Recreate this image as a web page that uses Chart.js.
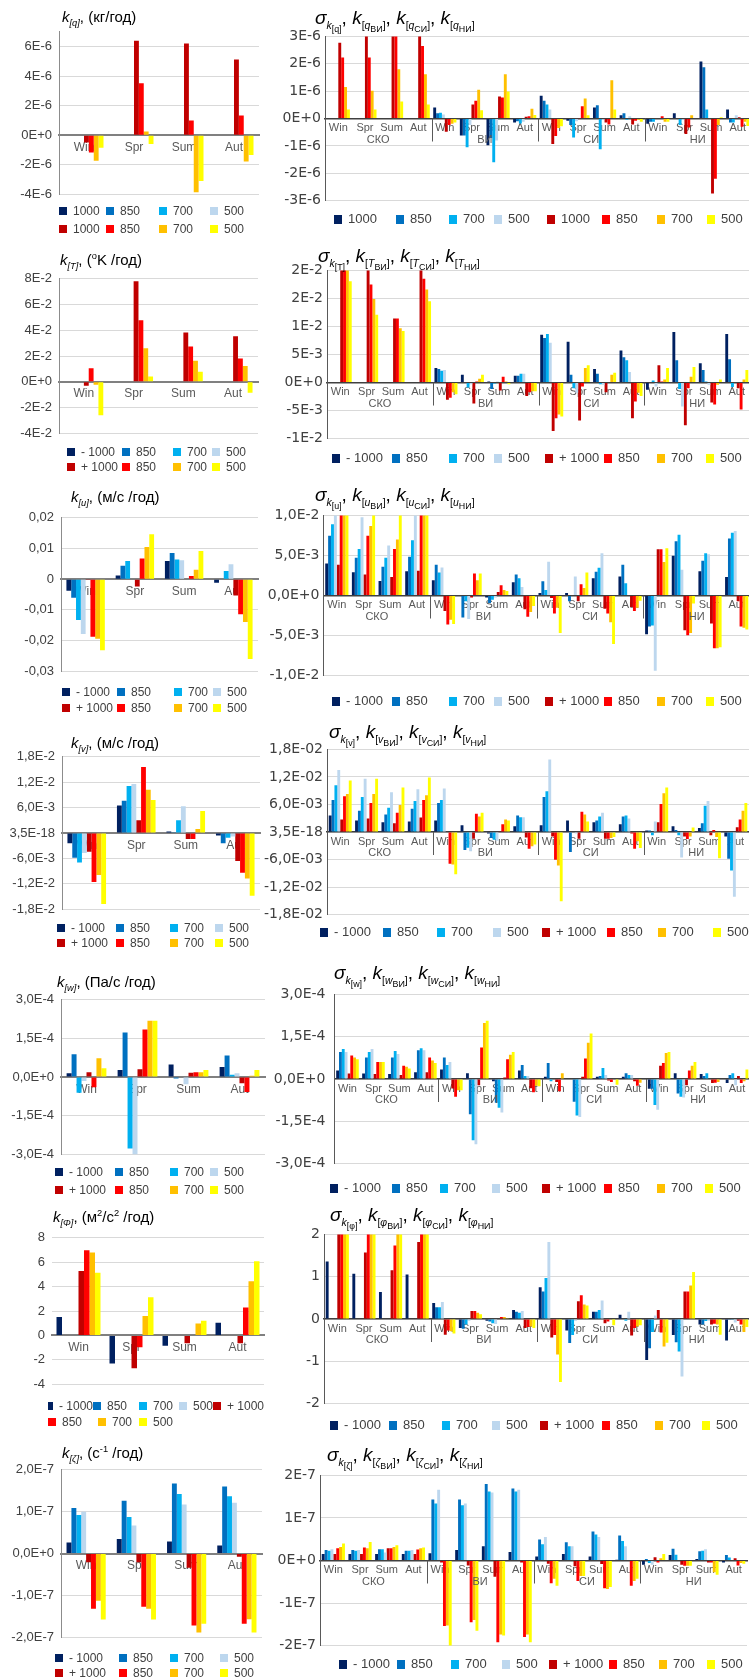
<!DOCTYPE html>
<html>
<head>
<meta charset="utf-8">
<script src="https://cdn.jsdelivr.net/npm/chart.js@4.4.1/dist/chart.umd.min.js"></script>
<style>
body { margin: 0; background: #fff; }
#page { position: relative; width: 749px; height: 1680px; overflow: hidden; font-family: "Liberation Sans", Arial, sans-serif; }
canvas { position: absolute; }
.ttl { position: absolute; white-space: nowrap; color: #000; line-height: 20px; }
.ttl sub, .ttl sup { font-size: 0.62em; line-height: 0; }
.lt { font-size: 15px; }
.rt { font-size: 19px; }
.rt sub { font-size: 0.55em; }
.rt sub sub { font-size: 0.85em; }
.leg { position: absolute; display: flex; white-space: nowrap; color: #404040; line-height: 16px; }
.leg span { display: flex; align-items: center; }
.leg i { display: inline-block; margin-right: 6px; }
.legL { font-size: 12px; }
.legL i { width: 8px; height: 8px; }
.legR { font-size: 13px; }
.legR i { width: 8px; height: 9px; }
</style>
</head>
<body>
<div id="page"></div>
<script>
const seasons = ['Win', 'Spr', 'Sum', 'Aut'];
const regions = ['СКО', 'ВИ', 'СИ', 'НИ'];
const regionSeasons = regions.flatMap(() => seasons);
const levelsPlain = ['1000', '850', '700', '500', '1000', '850', '700', '500'];
const levelsSigned = ['- 1000', '850', '700', '500', '+ 1000', '850', '700', '500'];
const palette = ['#002060', '#0070C0', '#00B0F0', '#BDD7EE', '#C00000', '#FF0000', '#FFC000', '#FFFF00'];

// series order: -1000, 850, 700, 500 (blue) then +1000, 850, 700, 500 (red/yellow)
// k[q], units of 1E-6
const qSeason = [
    [0, 0, 0, 0], [0, 0, 0, 0], [0, 0, 0, 0], [0, 0, 0, 0],
    [-0.5, 6.4, 6.2, 5.12],
    [-1.18, 3.51, 1.0, 1.33],
    [-1.73, 0.24, -3.87, -1.78],
    [-0.86, -0.6, -3.1, -1.35]
];
const qRegion = [
    [0, 0, 0, 0, 0.40, -0.62, -0.98, -0.15, 0.83, -0.08, 0.40, 0.12, -0.19, 0.19, 2.08, 0.33],
    [0, 0, 0, 0, 0.19, -0.62, -0.71, -0.10, 0.65, -0.24, 0.48, 0.19, -0.12, 0, 1.87, -0.15],
    [0, 0, 0, 0, 0.21, -1.05, -1.60, -0.18, 0.51, -0.69, -1.12, -0.05, -0.12, -0.24, 0.33, -0.15],
    [0, 0, 0, 0, 0.15, -0.24, -0.80, -0.12, 0.33, -0.10, -0.05, 0.08, 0, -0.05, -0.02, 0.12],
    [2.77, 3.4, 3.3, 3.2, -0.48, 0.51, 0.80, 0.06, -0.93, 0.01, -0.15, -0.22, 0.02, -0.57, -2.74, 0.05],
    [2.23, 2.23, 3.1, 2.65, -0.24, 0.65, 0.77, 0.08, -0.64, 0.45, -0.22, -0.08, 0.08, -0.33, -2.20, -0.30],
    [1.15, 1.01, 1.80, 1.62, -0.19, 1.05, 1.62, 0.36, -0.35, 0.73, 1.40, -0.05, -0.12, 0.12, -0.24, -0.12],
    [0.33, 0.33, 0.62, 0.51, -0.15, 0.30, 0.99, 0.13, -0.28, 0.12, 0.33, -0.12, -0.12, -0.02, 0.05, -0.27]
];
const qSeasonTicks = ['6E-6', '4E-6', '2E-6', '0E+0', '-2E-6', '-4E-6'];
const qRegionTicks = ['3E-6', '2E-6', '1E-6', '0E+0', '-1E-6', '-2E-6', '-3E-6'];

// k[T], left in 1E-2, right in 1E-3
const tSeason = [
    [0, 0, 0, 0], [0, 0, 0, 0], [0, 0, 0, 0], [0, 0, 0, 0],
    [-0.32, 7.8, 3.83, 3.54],
    [1.05, 4.78, 2.73, 1.8],
    [-0.24, 2.6, 1.63, 1.22],
    [-2.6, 0.41, 0.78, -0.85]
];
const tRegion = [
    [0, 0, 0, 0, 2.6, 1.38, 0.17, 1.21, 8.54, 7.27, 2.42, 5.71, -1.27, 9.0, 3.46, 8.66],
    [0, 0, 0, 0, 2.4, 0, -1.15, 1.21, 7.96, 1.38, 1.56, 4.5, 0, 3.98, 2.25, 4.15],
    [0, 0, 0, 0, 2.1, -0.87, -0.17, 1.56, 8.66, -1.04, -0.29, 3.98, 0.35, -1.15, 0.17, -0.8],
    [0, 0, 0, 0, 2.25, -0.3, 0.17, 1.56, 7.1, -1.8, -0.4, 1.9, -0.7, -4.27, -0.4, 0],
    [25, 22, 11.4, 21, -3.06, -3.75, -1.44, -2.42, -8.66, -6.75, -1.73, -6.35, 3.1, -7.6, -3.58, -1.0],
    [24, 17.5, 11.4, 18.5, -2.7, 0.17, 1.04, -1.73, -6.35, -0.69, 0, -3.4, 0.17, -1.0, -3.92, -4.79],
    [22, 14.9, 9.7, 16.6, -1.73, 0.69, 0.17, -1.56, -5.71, 2.6, 1.38, -1.8, 0.52, 1.04, -0.4, 0.52],
    [18.06, 12.1, 9.2, 14.5, -2.1, 1.38, -0.29, -1.56, -6.06, 3.1, 1.73, -2.42, 2.6, 2.77, 0.52, 2.25]
];
const tSeasonTicks = ['8E-2', '6E-2', '4E-2', '2E-2', '0E+0', '-2E-2', '-4E-2'];
const tRegionTicks = ['2E-2', '2E-2', '1E-2', '5E-3', '0E+0', '-5E-3', '-1E-2'];

// k[u], units of 1E-3
const uSeason = [
    [-3.8, 1.2, 5.9, -1.2],
    [-6.1, 4.4, 8.5, 0],
    [-13.3, 5.9, 6.4, 2.65],
    [-17.9, 0, 6.2, 4.9],
    [-0.3, -2.4, 0, -5.3],
    [-18.8, 6.7, 1.0, -11.4],
    [-19.4, 10.5, 3.1, -14.0],
    [-23.2, 14.6, 9.2, -26.0]
];
const uRegion = [
    [4.0, 2.9, 1.81, 3.02, 1.9, 0, -0.24, 1.65, 0.32, 0.32, 2.14, 2.38, -4.84, 4.96, 3.02, 2.3],
    [7.46, 4.72, 3.59, 4.84, 3.83, -2.74, -0.93, 2.62, 1.77, -0.73, 2.98, 3.83, -3.87, 6.77, 4.35, 7.13],
    [8.9, 5.8, 4.72, 6.9, 2.86, -0.73, -0.52, 2.14, 0.69, 0, 3.47, 1.53, -3.75, 7.58, 5.28, 7.82],
    [10.5, 9.76, 6.25, 10.5, 3.5, -2.94, -0.24, 1.05, 4.2, 2.38, 5.28, 0, -9.4, 3.23, 5.16, 8.06],
    [3.83, 2.62, 2.3, 3.1, -1.94, -0.24, 0.44, -1.73, -0.3, -0.73, -1.65, -1.45, 5.77, -4.35, -3.5, -0.73],
    [11, 7.46, 5.8, 10.2, -3.63, 2.74, 1.29, -2.66, -2.26, 1.41, -2.26, -1.94, 5.77, -4.96, -6.57, -3.87],
    [11, 8.67, 7.0, 10.8, -3.02, 1.9, 0.69, -2.06, -1.53, 0.93, -3.35, -1.53, 4.19, -4.68, -6.6, -4.03],
    [12, 10.5, 11, 11, -3.55, 2.74, 0.56, -1.3, -4.68, 2.86, -6.05, -0.65, 5.89, -1.0, -6.45, -4.23]
];
const uSeasonTicks = ['0,02', '0,01', '0', '-0,01', '-0,02', '-0,03'];
const uRegionTicks = ['1,0E-2', '5,0E-3', '0,0E+0', '-5,0E-3', '-1,0E-2'];

// k[v], units of 1E-3
const vSeason = [
    [-2.4, 6.5, 0.37, -0.6],
    [-5.85, 7.6, 0.2, -2.4],
    [-6.95, 11.1, 3.0, -1.1],
    [-4.75, 11.56, 6.3, -0.8],
    [-4.4, 3.0, -1.4, -6.6],
    [-11.56, 15.6, -1.4, -9.4],
    [-9.9, 10.2, 0.95, -10.75],
    [-16.8, 7.8, 5.2, -14.8]
];
const vRegion = [
    [3.6, 2.5, 2.1, 2.3, 2.5, 1.48, -0.35, 1.27, 1.48, 2.5, 2.1, 1.7, 0.35, 1.27, 0.85, -1.0],
    [7.0, 4.65, 3.8, 5.07, 6.3, -3.9, -1.3, 3.6, 7.6, -4.37, 2.5, 3.4, 0.35, 0.42, 1.9, -5.85],
    [10.2, 7.6, 5.3, 6.76, 7.0, -3.45, -1.7, 3.2, 8.9, 0, 3.4, 3.6, -0.7, -0.7, 5.7, -8.4],
    [13.5, 11.6, 8.66, 9.3, 9.5, -4.2, -1.9, 3.2, 15.8, -0.3, 4.2, 2.96, 2.3, -5.56, 6.76, -14.1],
    [2.75, 2.96, 1.9, 3.17, 0, -1.48, 0.14, -1.2, -1.0, -1.48, -1.48, -0.35, 2.1, -1.0, -0.7, 1.05],
    [7.8, 6.3, 4.2, 7.0, -6.9, 4.0, 1.7, -3.66, -6.05, 4.4, -1.48, -3.66, 6.1, -1.55, 0.42, 2.75],
    [8.3, 8.3, 5.9, 8.0, -7.1, 3.4, 2.75, -3.1, -7.3, 3.8, -1.3, -2.0, 8.45, -1.0, -1.1, 4.65],
    [11.2, 11.6, 9.7, 11.9, -9.2, 4.2, 2.5, -2.75, -15.1, 2.3, -1.1, -3.5, 9.7, 1.0, -5.7, 6.3]
];
const vSeasonTicks = ['1,8E-2', '1,2E-2', '6,0E-3', '3,5E-18', '-6,0E-3', '-1,2E-2', '-1,8E-2'];
const vRegionTicks = ['1,8E-02', '1,2E-02', '6,0E-03', '3,5E-18', '-6,0E-03', '-1,2E-02', '-1,8E-02'];

// k[w], units of 1E-5
const wSeason = [
    [1.46, 2.7, 4.9, 3.9],
    [8.8, 17.3, -0.6, 8.4],
    [-6.1, -27.8, 0, 0.85],
    [-1.6, -30.5, -2.8, 1.46],
    [1.83, 3.05, 1.7, -2.4],
    [-4.0, 18.5, 1.83, -5.85],
    [7.3, 21.9, 1.83, 0.5],
    [3.4, 21.9, 2.7, 2.7]
];
const wRegion = [
    [3.05, 1.96, 1.74, 2.4, 3.4, 2.07, -0.76, 3.05, 0.76, 0, 0.76, 0.76, -3.5, 2.07, 1.74, -1.4],
    [9.6, 7.6, 7.6, 10.2, 7.6, -12.5, -8.4, 5.0, 5.66, -8.1, 1.1, 2.07, -3.5, -5.1, 1.1, 1.4],
    [10.6, 9.6, 9.9, 10.9, 5.0, -21.7, -10.2, 1.1, -0.76, -12.9, 3.9, 1.4, -9.25, -6.3, 2.07, 2.07],
    [9.6, 10.6, 8.9, 10.2, 6.0, -23.1, -11.9, 1.1, 0, -13.5, 1.4, 1.4, -10.9, -6.6, 0, -2.2],
    [1.96, 1.74, 1.4, 2.4, -3.4, -2.2, 0.54, -3.3, -1.1, 0.76, -0.54, -0.76, 4.7, -2.2, -1.4, 1.1],
    [8.3, 6.0, 4.7, 7.6, -6.3, 11.2, 7.0, -4.7, -4.36, 7.3, -1.1, -2.4, 5.66, 3.05, -1.3, -1.4],
    [7.6, 6.0, 4.36, 6.6, -4.0, 19.9, 8.6, -2.4, 2.07, 12.85, -0.2, -1.3, 9.25, 4.7, -1.1, -0.76],
    [7.0, 6.0, 3.7, 5.66, -4.0, 20.7, 9.6, -2.6, 0, 16.1, -2.07, 0, 9.6, 6.0, 0.2, 3.4]
];
const wSeasonTicks = ['3,0E-4', '1,5E-4', '0,0E+0', '-1,5E-4', '-3,0E-4'];
const wRegionTicks = ['3,0E-4', '1,5E-4', '0,0E+0', '-1,5E-4', '-3,0E-4'];

// k[Φ], m2/s2 per year
const fSeason = [
    [1.5, -2.31, -0.85, 1.03],
    [0, 0, 0, 0], [0, 0, 0, 0], [0, 0, 0, 0],
    [5.28, -2.7, -0.64, -0.64],
    [6.97, -0.97, 0, 2.28],
    [6.8, 1.59, 0.97, 4.44],
    [5.13, 3.13, 1.2, 6.08]
];
const fRegion = [
    [1.36, 1.07, 0.64, 1.05, 0.38, -0.21, -0.04, 0.21, 0.75, -0.27, 0.17, 0.1, -0.97, -0.38, -0.13, -0.51],
    [0, 0, 0, 0, 0.28, -0.23, -0.06, 0.17, 0.65, -0.57, 0.17, 0, -0.69, -0.55, -0.13, -0.02],
    [0, 0, 0, 0, 0.28, -0.13, -0.1, 0.15, 0.97, -0.38, 0.21, -0.04, -0.31, -0.77, -0.05, -0.02],
    [0, 0, 0, 0, 0.4, -0.04, -0.12, 0.19, 1.82, -0.04, 0.44, 0.17, 0.08, -1.36, -0.04, -0.08],
    [2.3, 1.57, 1.15, 1.82, -0.37, 0.19, 0, -0.21, -0.44, 0.42, -0.1, -0.39, 0.21, 0.65, -0.13, -0.04],
    [2.5, 2.1, 1.74, 2.2, -0.27, 0.19, 0.05, -0.19, -0.38, 0.56, -0.06, -0.21, -0.32, 0.65, -0.11, -0.13],
    [2.4, 2.3, 2.2, 2.3, -0.29, 0.15, 0.05, -0.18, -0.84, 0.34, -0.02, -0.18, -0.65, 0.79, -0.13, -0.31],
    [2.2, 2.3, 2.4, 2.4, -0.34, 0.11, 0.02, -0.21, -1.49, 0.32, -0.15, -0.15, -0.56, 1.11, -0.37, -0.19]
];
const fSeasonTicks = ['8', '6', '4', '2', '0', '-2', '-4'];
const fRegionTicks = ['2', '1', '0', '-1', '-2'];

// k[ζ], units of 1E-8
const zSeason = [
    [2.64, 3.47, 2.87, 1.89],
    [10.9, 12.6, 16.7, 16.0],
    [9.2, 8.7, 14.2, 13.7],
    [10.0, 6.7, 11.7, 12.1],
    [-2.1, -2.1, -3.4, -0.75],
    [-13.2, -12.75, -17.2, -16.8],
    [-11.3, -13.2, -18.9, -15.7],
    [-15.8, -15.8, -16.8, -18.9]
];
const zRegion = [
    [1.5, 1.5, 1.5, 1.5, 1.7, 2.44, 3.36, 2.0, 0.92, 1.5, 0.92, 0.15, -0.99, 1.3, 0.38, -0.46],
    [2.44, 2.44, 2.67, 2.3, 14.35, 14.35, 18.0, 16.9, 4.96, 4.27, 6.8, 5.88, 0.38, 2.75, 2.2, 1.3],
    [2.3, 2.3, 2.67, 2.3, 13.4, 13.0, 16.2, 16.2, 3.82, 3.36, 6.1, 4.58, -0.61, 1.37, 2.3, 0.69],
    [2.67, 2.44, 1.9, 2.44, 16.6, 13.4, 16.0, 16.6, 5.5, 3.36, 5.5, 3.36, -0.99, 0, 2.67, 0],
    [1.5, 1.5, 2.9, 1.5, -0.46, -1.2, -3.8, -0.46, -0.76, -1.37, -0.84, 0, 0.76, -0.99, -0.46, 0.53],
    [2.9, 3.05, 2.9, 2.6, -15.4, -14.5, -19.2, -18.0, -5.34, -4.8, -6.5, -5.95, -0.46, -1.22, -0.46, -1.15],
    [3.2, 2.9, 3.2, 2.9, -15.3, -14.0, -17.4, -17.4, -4.27, -3.66, -6.7, -4.8, 0.53, -1.22, -2.75, -0.61],
    [3.97, 4.35, 3.6, 3.05, -20.5, -16.5, -17.6, -19.2, -5.95, -3.66, -6.2, -4.27, 1.5, -1.22, -3.36, -0.76]
];
const zSeasonTicks = ['2,0E-7', '1,0E-7', '0,0E+0', '-1,0E-7', '-2,0E-7'];
const zRegionTicks = ['2E-7', '1E-7', '0E+0', '-1E-7', '-2E-7'];

const page = document.getElementById('page');

// region names and separators under the category axis
const regionPlugin = {
    id: 'regions',
    afterDraw(chart) {
        const x = chart.scales.x;
        const y0 = chart.scales.y.getPixelForValue(0);
        const ctx = chart.ctx;
        ctx.save();
        ctx.font = '11px "Liberation Sans"';
        ctx.fillStyle = '#595959';
        ctx.strokeStyle = '#595959';
        ctx.lineWidth = 1;
        ctx.textAlign = 'center';
        ctx.textBaseline = 'middle';
        regions.forEach((name, r) => {
            const a = x.getPixelForValue(r * 4);
            const b = x.getPixelForValue(r * 4 + 3);
            ctx.fillText(name, (a + b) / 2, y0 + 21);
            if (r > 0) {
                const sx = Math.round((x.getPixelForValue(r * 4 - 1) + a) / 2) + 0.5;
                ctx.beginPath();
                ctx.moveTo(sx, y0);
                ctx.lineTo(sx, y0 + 23);
                ctx.stroke();
            }
        });
        ctx.restore();
    }
};

function buildChart(s) {
    const [L, T, R, B] = s.plot;
    const cv = document.createElement('canvas');
    const top = Math.round(T - 10);
    cv.width = Math.round(R - s.canvasLeft + 2);
    cv.height = Math.round(B - T + 20);
    cv.style.left = s.canvasLeft + 'px';
    cv.style.top = top + 'px';
    page.appendChild(cv);
    const yw = L - s.canvasLeft;
    new Chart(cv, {
        type: 'bar',
        data: {
            labels: s.labels,
            datasets: s.data.map((vals, k) => ({
                label: s.names[k],
                data: vals,
                backgroundColor: palette[k],
                borderWidth: 0,
                categoryPercentage: s.catPct,
                barPercentage: 1,
                clip: 0
            }))
        },
        options: {
            responsive: false,
            animation: false,
            devicePixelRatio: 1,
            layout: { padding: { top: 10, bottom: 10, left: 0, right: 2 } },
            plugins: { legend: { display: false }, tooltip: { enabled: false } },
            scales: {
                x: {
                    position: { y: 0 },
                    z: 1,
                    grid: { display: false, drawTicks: false },
                    border: { display: true, color: s.zeroColor, width: s.zeroWidth },
                    ticks: {
                        autoSkip: false, maxRotation: 0, padding: s.xPad, color: '#595959',
                        font: { family: 'Liberation Sans', size: s.xFont }
                    }
                },
                y: {
                    min: s.min, max: s.max, bounds: 'data',
                    afterFit: sc => { sc.width = yw; },
                    afterBuildTicks: sc => {
                        sc.ticks = sc.ticks.filter(t => Math.abs(t.value / s.step - Math.round(t.value / s.step)) < 1e-6);
                    },
                    grid: { color: '#d9d9d9', drawTicks: false },
                    border: { display: s.yLine, color: s.yLineColor, width: 1 },
                    ticks: {
                        stepSize: s.step, autoSkip: false, padding: s.yPad, color: '#404040',
                        font: { family: s.yFamily, size: s.yFont },
                        callback: (v, i, arr) => s.ticks[arr.length - 1 - i]
                    }
                }
            }
        },
        plugins: s.regions ? [regionPlugin] : []
    });
}

function addTitle(html, cls, x, y) {
    const d = document.createElement('div');
    d.className = 'ttl ' + cls;
    d.innerHTML = html;
    d.style.left = x + 'px';
    d.style.top = (y - 10) + 'px';
    page.appendChild(d);
}

function addLegend(names, cls, x, y, gap, rows, widths) {
    rows.forEach((row, r) => {
        const d = document.createElement('div');
        d.className = 'leg ' + cls;
        d.style.left = x + 'px';
        d.style.top = (y + r * gap - 8) + 'px';
        row.forEach((k, j) => {
            const it = document.createElement('span');
            if (widths[r][j]) it.style.width = widths[r][j] + 'px';
            it.innerHTML = '<i style="background:' + palette[k] + '"></i>' + names[k];
            d.appendChild(it);
        });
        page.appendChild(d);
    });
}

const leftTitle = (sym, unit) => '<i>k</i><sub><i>[' + sym + ']</i></sub>, (' + unit + ')';
const rightTitle = sym => '<i>σ</i><sub><i>k</i><sub>[' + sym + ']</sub></sub>, ' +
    ['ВИ', 'СИ', 'НИ'].map(r => '<i>k</i><sub>[<i>' + sym + '</i><sub>' + r + '</sub>]</sub>').join(', ');

const twoRows = [[0, 1, 2, 3], [4, 5, 6, 7]];
const oneRow = [[0, 1, 2, 3, 4, 5, 6, 7]];

const leftBase = {
    canvasLeft: 0, labels: seasons, catPct: 0.78, zeroColor: '#808080', zeroWidth: 2, xPad: 5, xFont: 12,
    yLine: true, yLineColor: '#8c8c8c', yPad: 7, yFamily: 'Liberation Sans', yFont: 13
};
const rightBase = {
    canvasLeft: 262, labels: regionSeasons, catPct: 0.87, zeroColor: '#404040', zeroWidth: 1.5, xPad: 3, xFont: 11,
    yLine: true, yLineColor: '#595959', yPad: 4, yFamily: 'DejaVu Sans', yFont: 14, regions: true
};

const rows = [
    {
        left: { data: qSeason, ticks: qSeasonTicks, min: -4, max: 7, step: 2, plot: [59, 26.7, 259, 199] },
        right: { data: qRegion, ticks: qRegionTicks, min: -3, max: 3, step: 1, plot: [325, 34.3, 751, 203.3] },
        names: levelsPlain, sym: 'q', unit: 'кг/год',
        lt: [62, 17], rt: [315, 18],
        lleg: [59, 211, 18, [[47, 53, 51], [47, 53, 51]]], rleg: [334, 219, [[62, 53, 45, 53, 55, 55, 50]]]
    },
    {
        left: { data: tSeason, ticks: tSeasonTicks, min: -4, max: 8, step: 2, plot: [59, 274, 258, 438] },
        right: { data: tRegion, ticks: tRegionTicks, min: -10, max: 20, step: 5, plot: [327, 267.7, 750, 441] },
        names: levelsSigned, sym: 'T', unit: '<sup>o</sup>K /год',
        lt: [60, 260], rt: [318, 256],
        lleg: [67, 452, 15, [[55, 51, 39], [55, 51, 39]]], rleg: [332, 458, [[60, 57, 45, 51, 59, 53, 49]]]
    },
    {
        left: { data: uSeason, ticks: uSeasonTicks, min: -30, max: 20, step: 10, plot: [61, 513.3, 258, 676.7] },
        right: { data: uRegion, ticks: uRegionTicks, min: -10, max: 10, step: 5, plot: [323.5, 513, 749.5, 678.3] },
        names: levelsSigned, sym: 'u', unit: 'м/с /год',
        lt: [71, 497], rt: [315, 495],
        lleg: [62, 692, 16, [[55, 57, 39], [55, 57, 39]]], rleg: [332, 701, [[60, 57, 45, 51, 59, 53, 49]]]
    },
    {
        left: { data: vSeason, ticks: vSeasonTicks, min: -18, max: 18, step: 6, plot: [62, 751.7, 260, 913.3] },
        right: { data: vRegion, ticks: vRegionTicks, min: -18, max: 18, step: 6, plot: [327, 746.7, 749, 916.7] },
        names: levelsSigned, sym: 'v', unit: 'м/с /год',
        lt: [71, 743], rt: [329, 732],
        lleg: [57, 928, 15, [[59, 54, 45], [59, 54, 45]]], rleg: [320, 932, [[63, 54, 56, 49, 65, 51, 55]]]
    },
    {
        left: { data: wSeason, ticks: wSeasonTicks, min: -30, max: 30, step: 15, plot: [61, 995, 265, 1159.3] },
        right: { data: wRegion, ticks: wRegionTicks, min: -30, max: 30, step: 15, plot: [334.5, 986.7, 750, 1171], yPad: 9 },
        names: levelsSigned, sym: 'w', unit: 'Па/с /год',
        lt: [57, 982], rt: [334, 973],
        lleg: [55, 1172, 18, [[60, 55, 40], [60, 55, 40]]], rleg: [330, 1188, [[62, 48, 52, 50, 62, 53, 48]]]
    },
    {
        left: { data: fSeason, ticks: fSeasonTicks, min: -4, max: 8, step: 2, plot: [52, 1232.7, 264, 1388.3], catPct: 0.83, yLine: false },
        right: { data: fRegion, ticks: fRegionTicks, min: -2, max: 2, step: 1, plot: [324, 1231.7, 750, 1405.7] },
        names: levelsSigned, sym: 'Φ', rsym: 'φ', unit: 'м<sup>2</sup>/с<sup>2</sup> /год',
        lt: [53, 1217], rt: [330, 1215],
        lleg: [48, 1406, 16, [[45, 46, 40, 34], [50, 41]], [[0, 1, 2, 3, 4], [5, 6, 7]]], rleg: [330, 1425, [[59, 53, 50, 48, 62, 53, 47]]]
    },
    {
        left: { data: zSeason, ticks: zSeasonTicks, min: -20, max: 20, step: 10, plot: [61, 1465, 262, 1641.7] },
        right: { data: zRegion, ticks: zRegionTicks, min: -20, max: 20, step: 10, plot: [320, 1473.3, 747, 1648.3] },
        names: levelsSigned, sym: 'ζ', unit: 'с<sup>-1</sup> /год',
        lt: [62, 1453], rt: [327, 1455],
        lleg: [55, 1658, 15, [[64, 51, 50], [64, 51, 50]]], rleg: [339, 1664, [[58, 54, 51, 47, 60, 50, 48]]]
    }
];

rows.forEach(row => {
    buildChart(Object.assign({}, leftBase, { names: row.names }, row.left));
    buildChart(Object.assign({}, rightBase, { names: row.names }, row.right));
    addTitle(leftTitle(row.sym, row.unit), 'lt', row.lt[0], row.lt[1]);
    addTitle(rightTitle(row.rsym || row.sym), 'rt', row.rt[0], row.rt[1]);
    const [lx, ly, lg, lw, lrows] = row.lleg;
    addLegend(row.names, 'legL', lx, ly, lg, lrows || twoRows, lw);
    const [rx, ry, rw] = row.rleg;
    addLegend(row.names, 'legR', rx, ry, 0, oneRow, rw);
});
</script>
</body>
</html>
